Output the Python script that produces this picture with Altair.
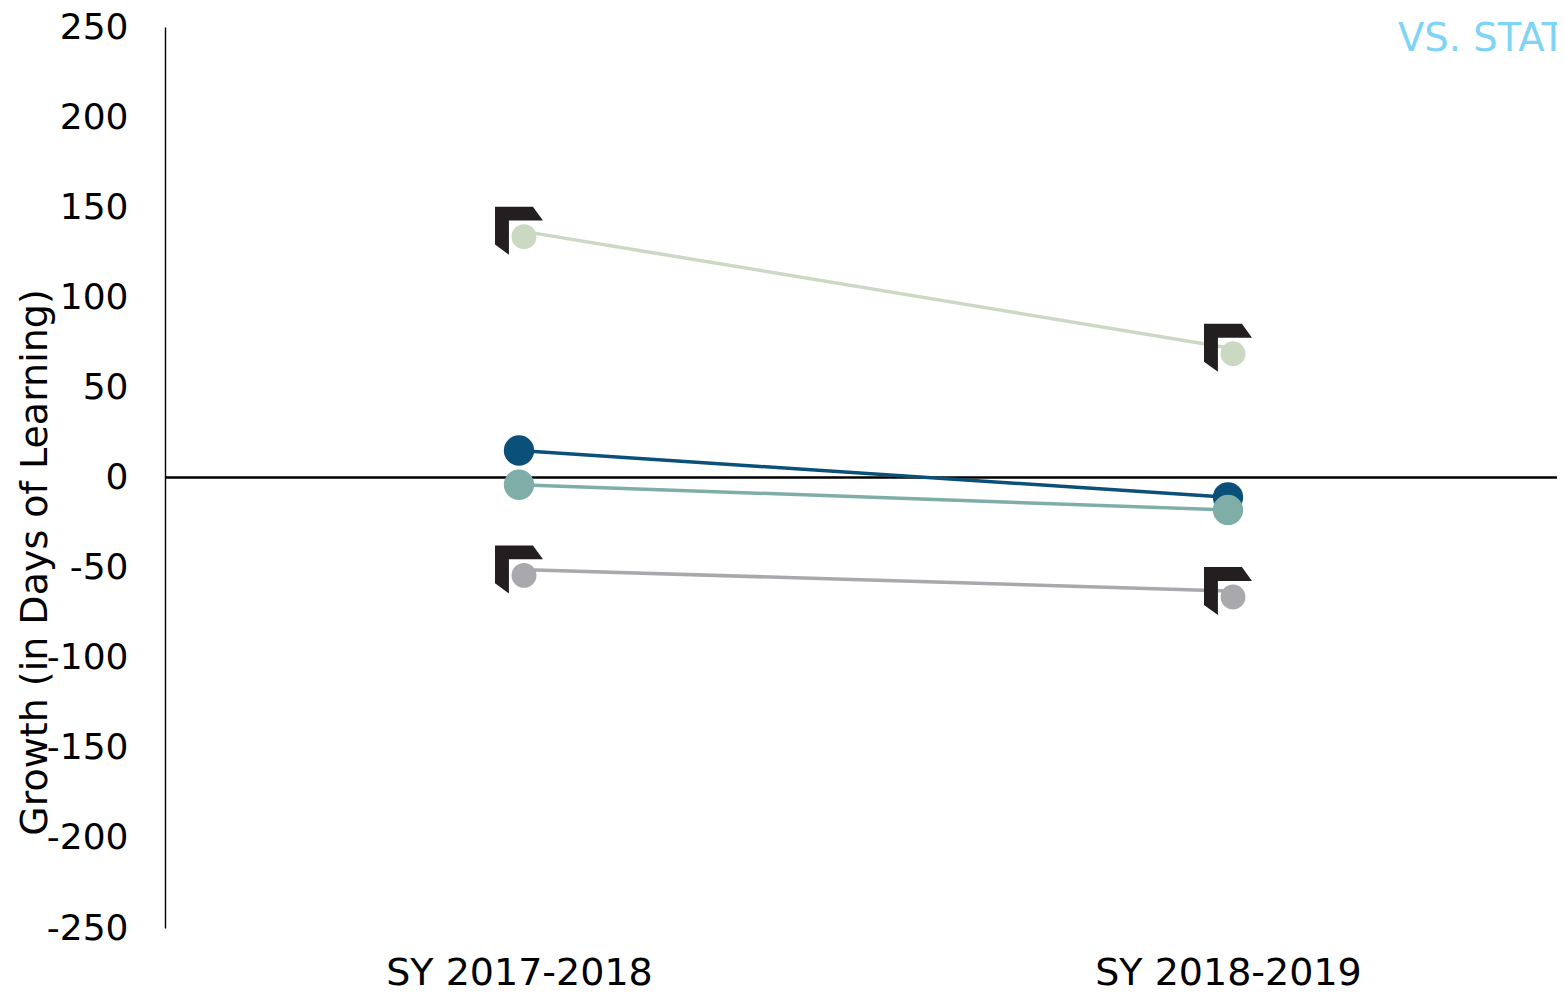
import altair as alt
import pandas as pd

years = ["SY 2017-2018", "SY 2018-2019"]
series = ["Group A", "Group B", "Group C", "Group D"]
values_a = [137, 72]      # light green (flagged)
values_b = [15, -11]      # dark blue
values_c = [-4, -18]      # teal
values_d = [-51, -63]     # gray (flagged)
colors = ["#cbd9c3", "#0b5079", "#7fada7", "#a9a9ad"]
flagged = [True, False, False, True]
y_ticks = [-250, -200, -150, -100, -50, 0, 50, 100, 150, 200, 250]
y_title = "Growth (in Days of Learning)"
corner_text = "VS. STAT"

rows = []
for s, vals, flag in zip(series, [values_a, values_b, values_c, values_d], flagged):
    for yr, v in zip(years, vals):
        rows.append({"series": s, "year": yr, "value": v, "flag": flag})
df = pd.DataFrame(rows)

FONT = "DejaVu Sans"
x_enc = alt.X("year:N", scale=alt.Scale(type="point", domain=years, range=[354, 1063], padding=0),
              axis=alt.Axis(title=None, domain=False, ticks=False, labelFontSize=38,
                            labelFont=FONT, labelColor="#000000", labelPadding=26,
                            labelAngle=0, labelLimit=0))
y_enc = alt.Y("value:Q", scale=alt.Scale(domain=[-250, 250], nice=False, zero=False),
              axis=alt.Axis(values=y_ticks, grid=False, ticks=False, domain=True,
                            domainColor="#000000", domainWidth=1.4,
                            labelFontSize=36, labelFont=FONT, labelColor="#000000",
                            labelPadding=37, labelExpr="'' + datum.value",
                            title=y_title, titleFont=FONT,
                            titleFontSize=38, titleFontWeight="normal", titleColor="#000000",
                            titleAngle=270, titleX=-130, titleY=535,
                            titleAlign="center", titleBaseline="middle"))
color_enc = alt.Color("series:N", scale=alt.Scale(domain=series, range=colors), legend=None)

base = alt.Chart(df)

zero = alt.Chart(pd.DataFrame({"z": [0]})).mark_rule(color="#000000", strokeWidth=2.6).encode(
    y=alt.Y("z:Q", scale=alt.Scale(domain=[-250, 250], nice=False)),
    x=alt.value(0), x2=alt.value(1400))

lines = base.mark_line(strokeWidth=3.5).encode(x=x_enc, y=y_enc, color=color_enc, detail="series:N")

flag_path = "M -1 -1 L 0.58 -1 L 1 -0.42 L -0.42 -0.42 L -0.42 1 L -1 0.58 Z"
flags = base.transform_filter(alt.datum.flag == True).mark_point(
    shape=flag_path, size=2304, filled=True, color="#231f20", opacity=1, strokeWidth=0
).encode(x=x_enc, y=y_enc)

small_dots = base.transform_filter(alt.datum.flag == True).mark_circle(
    size=620, opacity=1, xOffset=5, yOffset=6
).encode(x=x_enc, y=y_enc, color=color_enc)

big_dots = base.transform_filter(alt.datum.flag == False).mark_circle(
    size=920, opacity=1
).encode(x=x_enc, y=y_enc, color=color_enc)

corner = alt.Chart(pd.DataFrame({"t": [corner_text]})).mark_text(
    align="left", baseline="alphabetic", fontSize=38.5, font=FONT, color="#7fd4f5"
).encode(x=alt.value(1233), y=alt.value(24), text="t:N")

chart = alt.layer(zero, lines, flags, small_dots, big_dots, corner).properties(
    width=1392, height=901,
    autosize=alt.AutoSizeParams(type="none"),
    padding={"left": 157, "top": 19, "right": 0, "bottom": 60},
).configure_view(stroke=None)

chart.save("out.html", embed_options={"renderer": "svg", "actions": False})
